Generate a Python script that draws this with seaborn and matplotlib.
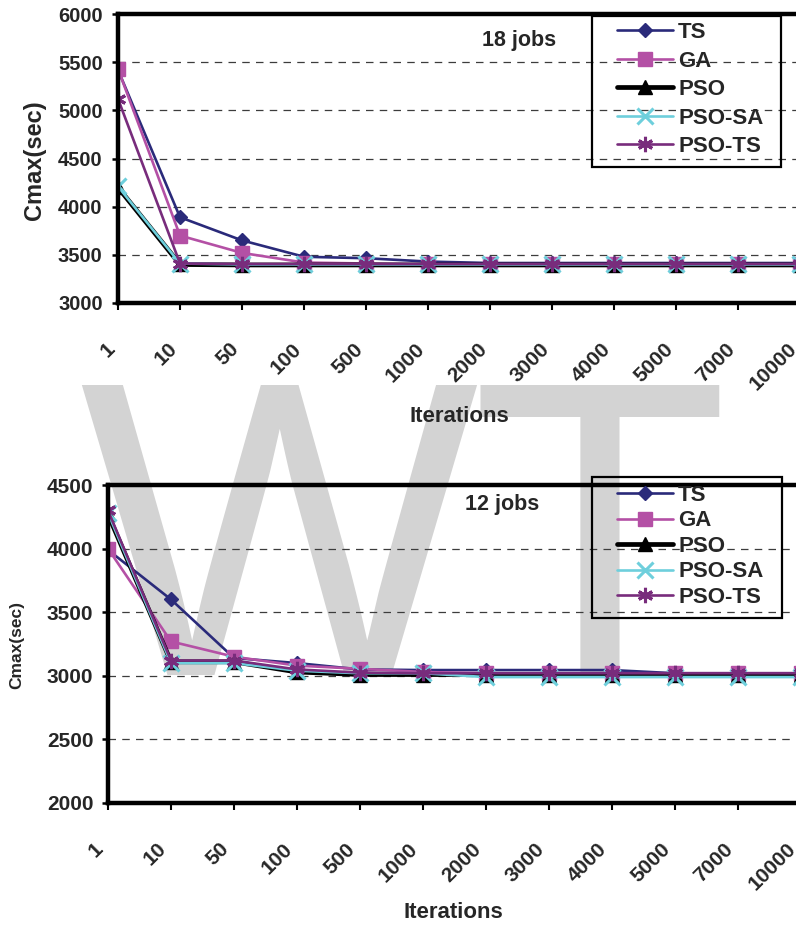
import matplotlib
matplotlib.use("Agg")
import matplotlib.pyplot as plt
from matplotlib import font_manager
from matplotlib.patches import Rectangle
from matplotlib.transforms import ScaledTranslation
import numpy as np
import pandas as pd
import seaborn as sns

# ---- data -------------------------------------------------------------
iterations = ["1", "10", "50", "100", "500", "1000", "2000", "3000",
              "4000", "5000", "7000", "10000"]
methods = ["TS", "GA", "PSO", "PSO-SA", "PSO-TS"]

# 18 jobs
ts_18 = [5420, 3890, 3650, 3480, 3465, 3430, 3415, 3415, 3415, 3415, 3415, 3415]
ga_18 = [5430, 3700, 3520, 3420, 3410, 3400, 3400, 3400, 3400, 3400, 3400, 3400]
pso_18 = [4200, 3400, 3395, 3395, 3395, 3395, 3395, 3395, 3395, 3395, 3395, 3395]
psosa_18 = [4210, 3410, 3400, 3400, 3400, 3400, 3400, 3400, 3400, 3400, 3400, 3400]
psots_18 = [5120, 3410, 3405, 3405, 3405, 3405, 3405, 3405, 3405, 3405, 3405, 3405]

# 12 jobs
ts_12 = [3990, 3600, 3140, 3100, 3050, 3045, 3045, 3045, 3045, 3020, 3020, 3020]
ga_12 = [4000, 3270, 3150, 3080, 3055, 3030, 3020, 3020, 3020, 3020, 3020, 3020]
pso_12 = [4270, 3110, 3110, 3030, 3010, 3010, 3010, 3010, 3010, 3010, 3010, 3010]
psosa_12 = [4280, 3100, 3100, 3040, 3020, 3020, 2990, 2990, 2990, 2990, 2990, 2990]
psots_12 = [4300, 3120, 3120, 3050, 3025, 3020, 3020, 3020, 3020, 3020, 3020, 3020]

yticks_18 = [3000, 3500, 4000, 4500, 5000, 5500, 6000]
yticks_12 = [2000, 2500, 3000, 3500, 4000, 4500]

# ---- styling ----------------------------------------------------------
sns.set_style("white")
installed = {f.name for f in font_manager.fontManager.ttflist}
BASE = "Liberation Sans" if "Liberation Sans" in installed else "DejaVu Sans"
NARROW = "Liberation Sans Narrow" if "Liberation Sans Narrow" in installed else BASE
plt.rcParams["font.family"] = [BASE, "DejaVu Sans"]
plt.rcParams["axes.facecolor"] = "none"

styles = {
    "TS":     dict(color="#2a2a7a", marker="D", ms=7.5, lw=1.9, mew=1.0),
    "GA":     dict(color="#b450a5", marker="s", ms=10.0, lw=1.9, mew=1.0),
    "PSO":    dict(color="#000000", marker="^", ms=9.5, lw=3.4, mew=1.0),
    "PSO-SA": dict(color="#6ecfdc", marker="x", ms=11.5, lw=1.9, mew=2.2),
    "PSO-TS": dict(color="#782c7c", marker=(6, 2, 0), ms=11.0, lw=1.9, mew=2.2),
}

W, H = 796, 925
fig = plt.figure(figsize=(W / 100, H / 100), dpi=100)


def fx(px):
    return px / W


def fy(py):
    return 1 - py / H


def draw_panel(ax, series, ylim, yticks, title, title_xy, ylabel_size,
               ylabel_xy, xlabel_xy, ytick_size, ytick_pad, xshift):
    df = pd.DataFrame({"Iterations": iterations * len(methods),
                       "Cmax": sum(series, []),
                       "method": np.repeat(methods, len(iterations))})
    for name in methods:
        st = styles[name]
        sub = df[df["method"] == name]
        sns.lineplot(data=sub, x="Iterations", y="Cmax", ax=ax, sort=False,
                     color=st["color"], marker=st["marker"],
                     markersize=st["ms"], linewidth=st["lw"],
                     markeredgecolor=st["color"], markeredgewidth=st["mew"],
                     label=name, legend=False)
    ax.set_xlim(0, len(iterations) - 1)
    ax.set_ylim(*ylim)
    ax.tick_params(axis="x", bottom=True, direction="out", length=5,
                   width=1.5, color="black", pad=26)
    ax.tick_params(axis="y", left=True, direction="out", length=4.5,
                   width=1.8, color="black", pad=ytick_pad)
    ax.set_yticks(yticks)
    ax.set_yticklabels([str(v) for v in yticks], fontsize=ytick_size,
                       fontweight="bold")
    ax.set_xticks(range(len(iterations)))
    ax.set_xticklabels(iterations, rotation=45, ha="right", va="center",
                       rotation_mode="anchor", fontsize=15, fontweight="bold")
    # nudge the slanted labels so their ends sit left of each tick
    shift = ScaledTranslation(xshift, 0, fig.dpi_scale_trans)
    for lbl in ax.get_xticklabels():
        lbl.set_transform(lbl.get_transform() + shift)
    ax.yaxis.grid(True, linestyle=(0, (6, 5)), color="#3c3c3c", lw=0.9)
    ax.xaxis.grid(False)
    for side in ("left", "top", "bottom"):
        ax.spines[side].set_visible(True)
        ax.spines[side].set_color("black")
        ax.spines[side].set_linewidth(3.2)
    ax.spines["right"].set_visible(False)

    ax.set_ylabel("Cmax(sec)", fontsize=ylabel_size, fontweight="bold",
                  rotation=90, ha="center", va="center",
                  rotation_mode="default")
    ax.yaxis.set_label_coords(*ylabel_xy)
    ax.set_xlabel("Iterations", fontsize=18 if NARROW != BASE else 16,
                  fontweight="bold", family=[NARROW, "DejaVu Sans"],
                  ha="center", va="center")
    ax.xaxis.set_label_coords(*xlabel_xy)
    ax.text(title_xy[0], title_xy[1], title, transform=ax.transAxes,
            fontsize=15.5, fontweight="bold", ha="center", va="center")


def draw_legend(ax, anchor_px, spacing, frame_px):
    handles, labels = ax.get_legend_handles_labels()
    leg = ax.legend(handles, labels, loc="upper left",
                    bbox_to_anchor=(fx(anchor_px[0]), fy(anchor_px[1])),
                    bbox_transform=fig.transFigure, frameon=False,
                    prop={"weight": "bold", "size": 16}, handlelength=2.5,
                    handletextpad=0.25, labelspacing=spacing, borderpad=0,
                    borderaxespad=0, numpoints=1)
    x0, y0, x1, y1 = frame_px
    fig.add_artist(Rectangle((fx(x0), fy(y1)), fx(x1) - fx(x0),
                             fy(y0) - fy(y1), transform=fig.transFigure,
                             fill=False, ec="black", lw=1.6, zorder=5))
    return leg


# top panel: 18 jobs
ax1 = fig.add_axes([fx(118), fy(303), fx(800) - fx(118), fy(14) - fy(303)])
draw_panel(ax1, [ts_18, ga_18, pso_18, psosa_18, psots_18], (3000, 6000),
           yticks_18, "18 jobs", (0.588, 0.91), 17,
           (-0.123, 0.495), (0.5, -0.394), 14.5, 6.5, -0.06)
draw_legend(ax1, (617, 22), 0.34, (592, 16, 781, 167))

# bottom panel: 12 jobs
ax2 = fig.add_axes([fx(108), fy(803), fx(801) - fx(108), fy(485) - fy(803)])
draw_panel(ax2, [ts_12, ga_12, pso_12, psosa_12, psots_12], (2000, 4500),
           yticks_12, "12 jobs", (0.569, 0.94), 12.5,
           (-0.131, 0.497), (0.498, -0.343), 15, 6, -0.08)
draw_legend(ax2, (617, 485), 0.2, (592, 477, 782, 618))

# background lettering
for letter, cx in (("W", 278), ("T", 599.5)):
    fig.text(fx(cx), fy(675), letter, fontsize=304, family=[BASE],
             color="#d3d3d3", ha="center", va="baseline", zorder=-5)

fig.savefig("out.png", dpi=100)
